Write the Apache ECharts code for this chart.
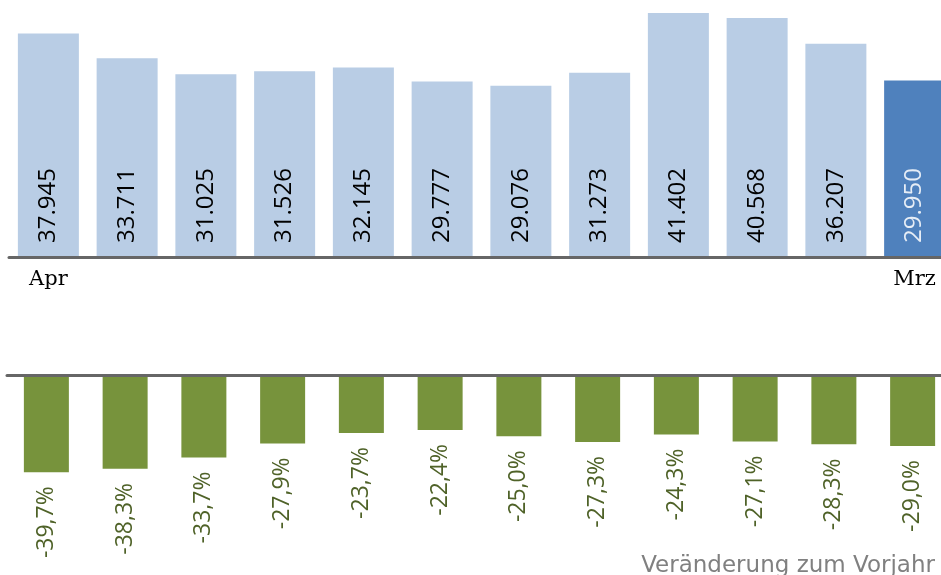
<!DOCTYPE html>
<html>
<head>
<meta charset="utf-8">
<script src="https://cdn.jsdelivr.net/npm/echarts@6/dist/echarts.min.js"></script>
<style>
html,body{margin:0;padding:0;background:#fff;overflow:hidden}
#chart{width:960px;height:575px}
</style>
</head>
<body>
<div id="chart"></div>
<script>
// Monate Apr..Mrz
var monate = ['Apr','Mai','Jun','Jul','Aug','Sep','Okt','Nov','Dez','Jan','Feb','Mrz'];
// Werte (Stück)
var werte = [37945, 33711, 31025, 31526, 32145, 29777, 29076, 31273, 41402, 40568, 36207, 29950];
// Veränderung zum Vorjahr in %
var veraenderung = [-39.7, -38.3, -33.7, -27.9, -23.7, -22.4, -25.0, -27.3, -24.3, -27.1, -28.3, -29.0];

// Container etwas breiter als das Fenster, damit der letzte Balken angeschnitten wird
var myChart = echarts.init(document.getElementById('chart'));
var last = monate.length - 1;

function punkt(v){ // 37945 -> 37.945
	var s = String(v);
	return s.slice(0, s.length-3) + '.' + s.slice(s.length-3);
}

var option = {
	animation: false,
	grid: [
		{left: 9, top: 1, width: 945, height: 256},
		{left: 7, top: 375, width: 945, height: 100}
	],
	xAxis: [
		{
			type: 'category', gridIndex: 0, data: monate, z: 5,
			axisLine: {lineStyle: {color: '#666666', width: 3}},
			axisTick: {show: false},
			axisLabel: {
				interval: 0,
				formatter: function(v, i){ return (i === 0 || i === last) ? v : ''; },
				fontFamily: 'DejaVu Serif', fontSize: 21, color: '#000', margin: 12
			}
		},
		{
			type: 'category', gridIndex: 1, data: monate, z: 5,
			axisLine: {lineStyle: {color: '#666666', width: 3}},
			axisTick: {show: false},
			axisLabel: {show: false}
		}
	],
	yAxis: [
		{type: 'value', gridIndex: 0, min: 0, max: 43440, show: false},
		{type: 'value', gridIndex: 1, min: -40.8, max: 0, show: false}
	],
	series: [
		{
			type: 'bar', xAxisIndex: 0, yAxisIndex: 0,
			data: werte.map(function(v, i){
				return {
					value: v,
					itemStyle: {color: i === last ? '#4f81bd' : '#b9cde5'},
					label: {color: i === last ? '#e6edf6' : '#000000'}
				};
			}),
			barWidth: 61,
			label: {
				show: true, position: 'insideBottom', rotate: 90, distance: 14,
				align: 'left', verticalAlign: 'middle',
				fontFamily: 'Open Sans', fontSize: 24,
				formatter: function(p){ return punkt(p.value); }
			}
		},
		{
			type: 'bar', xAxisIndex: 1, yAxisIndex: 1,
			data: veraenderung,
			barWidth: 45,
			itemStyle: {color: '#77933c'},
			label: {
				show: true, position: 'bottom', rotate: 90, distance: 14,
				align: 'right', verticalAlign: 'middle',
				fontFamily: 'Open Sans', fontSize: 23, color: '#4f6228',
				formatter: function(p){ return p.value.toFixed(1).replace('.', ',') + '%'; }
			}
		}
	],
	graphic: [
		{
			type: 'text', right: 25, top: 555,
			style: {
				text: 'Veränderung zum Vorjahr',
				fontFamily: 'DejaVu Sans', fontSize: 23, fill: '#808080'
			}
		}
	]
};
myChart.setOption(option);
</script>
</body>
</html>
